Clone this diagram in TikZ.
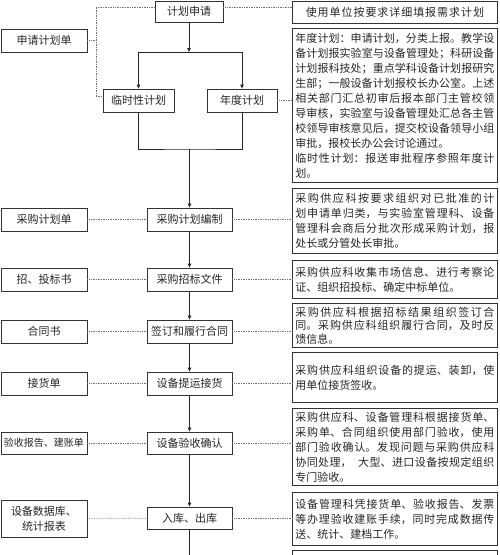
\documentclass[tikz,border=0pt]{standalone}
\usepackage{fontspec}
\setmainfont{Noto Sans CJK SC}
\usetikzlibrary{arrows.meta}
\XeTeXlinebreaklocale "zh"
\XeTeXlinebreakskip=0pt plus 2pt

\begin{document}
\begin{tikzpicture}[x=1pt,y=-1pt,
  font=\fontsize{11}{15}\selectfont,
  mainbox/.style={draw=black!80,line width=0.8pt,text=black!85,inner sep=0pt,minimum width=85pt,minimum height=23pt},
  docbox/.style={draw=black!80,line width=0.8pt,text=black!85,inner sep=0pt,minimum width=86pt,minimum height=23pt,align=center},
  notebox/.style={draw=black!80,line width=0.8pt,text=black!85,anchor=north west,text width=199pt,inner xsep=3pt,inner ysep=2pt,align=justify},
  flow/.style={-{Triangle[length=4pt,width=3.5pt]},line width=0.9pt,draw=black!85},
  link/.style={-,line width=0.9pt,draw=black!85},
  aside/.style={-,densely dotted,line width=0.7pt,draw=black!55}]
\clip (0,0) rectangle (500,555);

\node[mainbox,minimum width=68pt,minimum height=21pt] (plan) at (189,11.5) {计划申请};
\node[mainbox,minimum width=71pt] (temp) at (138.5,100.5) {临时性计划};
\node[mainbox,minimum width=70pt] (year) at (242,100.5) {年度计划};
\node[mainbox] (compile) at (189.5,219.5) {采购计划编制};
\node[mainbox] (bid) at (189.5,279.5) {采购招标文件};
\node[mainbox] (contract) at (189.5,331.5) {签订和履行合同};
\node[mainbox] (deliver) at (189.5,383.5) {设备提运接货};
\node[mainbox,minimum height=22pt] (accept) at (189.5,443) {设备验收确认};
\node[mainbox,minimum height=22pt] (store) at (189.5,518) {入库、出库};

\node[docbox] (req) at (44,40.5) {申请计划单};
\node[docbox] (lcompile) at (44,219.5) {采购计划单};
\node[docbox] (lbid) at (44,279.5) {招、投标书};
\node[docbox] (lcontract) at (44,331.5) {合同书};
\node[docbox] (ldeliver) at (44,383.5) {接货单};
\node[docbox,minimum height=22pt,font=\fontsize{10}{12}\selectfont] (laccept) at (44,443) {验收报告、建账单};
\node[docbox,minimum height=37pt] (lstore) at (44,518.5) {设备数据库、\\统计报表};

\node[notebox,align=center,minimum height=22pt] (use) at (292,1) {使用单位按要求详细填报需求计划};
\node[notebox,minimum height=154pt] (r2) at (292,28) {年度计划：申请计划，分类上报。教学设\linebreak
备计划报实验室与设备管理处；科研设备\linebreak
计划报科技处；重点学科设备计划报研究\linebreak
生部；一般设备计划报校长办公室。上述\linebreak
相关部门汇总初审后报本部门主管校领\linebreak
导审核，实验室与设备管理处汇总各主管\linebreak
校领导审核意见后，提交校设备领导小组\linebreak
审批，报校长办公会讨论通过。\par
临时性计划：报送审批程序参照年度计\linebreak
划。};
\node[notebox,minimum height=65pt] (r3) at (292,188) {采购供应科按要求组织对已批准的计\linebreak
划申请单归类，与实验室管理科、设备\linebreak
管理科会商后分批次形成采购计划，报\linebreak
处长或分管处长审批。};
\node[notebox,minimum height=38pt] (r4) at (292,260) {采购供应科收集市场信息、进行考察论\linebreak
证、组织招投标、确定中标单位。};
\node[notebox,minimum height=44pt,font=\fontsize{11}{13.5}\selectfont] (r5) at (292,303) {采购供应科根据招标结果组织签订合\linebreak
同。采购供应科组织履行合同，及时反\linebreak
馈信息。};
\node[notebox,minimum height=50pt] (r6) at (292,352) {采购供应科组织设备的提运、装卸，使\linebreak
用单位接货签收。};
\node[notebox,minimum height=77pt] (r7) at (292,408) {采购供应科、设备管理科根据接货单、\linebreak
采购单、合同组织使用部门验收，使用\linebreak
部门验收确认。发现问题与采购供应科\linebreak
协同处理，\hspace{0.6em}大型、进口设备按规定组织\linebreak
专门验收。};
\node[notebox,minimum height=53pt] (r8) at (292,492) {设备管理科凭接货单、验收报告、发票\linebreak
等办理验收建账手续，同时完成数据传\linebreak
送、统计、建档工作。};
\node[notebox,minimum height=30pt] (r9) at (292,550) {};

\coordinate (split) at (189,52);
\coordinate (merge) at (189.5,149);
\coordinate (bus) at (96,7);
\coordinate (out) at (189.5,560);

\draw[flow] (plan.south) -- (split);
\draw[link] (split -| temp.north) -- (split -| year.north);
\draw[flow] (split -| temp.north) -- (temp.north);
\draw[flow] (split -| year.north) -- (year.north);
\draw[link] (temp.south) |- (merge) -| (year.south);
\draw[flow] (merge) -- (compile.north);
\foreach \a/\b in {compile/bid,bid/contract,contract/deliver,deliver/accept,accept/store}
  \draw[flow] (\a) -- (\b);
\draw[link] (store) -- (out);

\draw[aside] ([yshift=4.5pt]plan.west) -- (bus) |- ([yshift=4pt]temp.west);
\draw[aside] (req.east) -- (req.east -| bus);
\draw[aside] ([yshift=4.5pt]plan.east) -- ([yshift=4.5pt]plan.east -| use.west);
\draw[aside] (year.east) -- (year.east -| r2.west);
\foreach \a/\b/\c in {lcompile/compile/r3,lbid/bid/r4,lcontract/contract/r5,ldeliver/deliver/r6,laccept/accept/r7,lstore/store/r8}
{
  \draw[aside] (\a) -- (\b);
  \draw[aside] (\b) -- (\b.east -| \c.west);
}
\end{tikzpicture}
\end{document}
